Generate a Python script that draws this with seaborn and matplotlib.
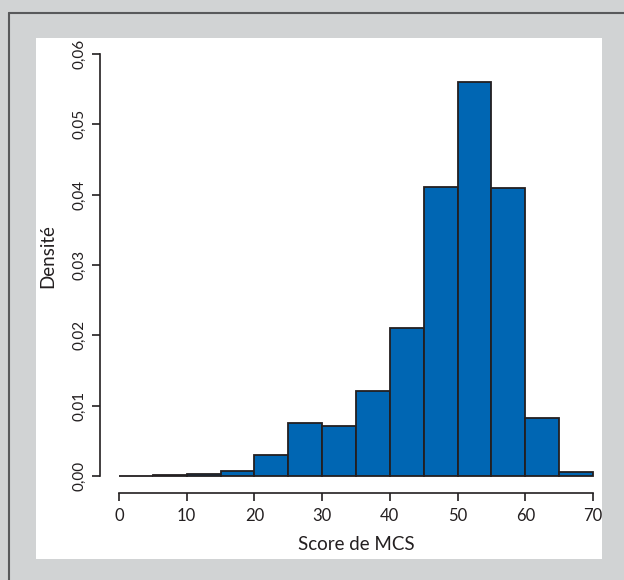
import numpy as np
import pandas as pd
import seaborn as sns
from matplotlib import pyplot as plt
from matplotlib.patches import Rectangle
from matplotlib.lines import Line2D
from matplotlib.ticker import FuncFormatter

# Histogramme des scores MCS (densité par classe de 5 points)
bin_edges = [0, 5, 10, 15, 20, 25, 30, 35, 40, 45, 50, 55, 60, 65, 70]
densite = [0.00005, 0.00015, 0.00036, 0.00073, 0.00306, 0.0075, 0.00713,
           0.01216, 0.02107, 0.04112, 0.05597, 0.04098, 0.00832, 0.00055]
x_ticks = [0, 10, 20, 30, 40, 50, 60, 70]
y_ticks = [0.00, 0.01, 0.02, 0.03, 0.04, 0.05, 0.06]

df = pd.DataFrame({
    'score': [(a + b) / 2 for a, b in zip(bin_edges[:-1], bin_edges[1:])],
    'densite': densite,
})

sns.set_style('white')
plt.rcParams['font.family'] = ['Lato', 'DejaVu Sans']

txt = '#231f20'
fig = plt.figure(figsize=(6.24, 5.8), dpi=100)
fig.patch.set_facecolor('#d1d3d4')

# cadre blanc + bordure du cadre gris
fig.patches.append(Rectangle((36 / 624, 21 / 580), 566 / 624, 521 / 580,
                             transform=fig.transFigure, facecolor='white',
                             edgecolor='none', zorder=-2))
fig.lines.append(Line2D([9 / 624, 1], [1 - 13 / 580, 1 - 13 / 580],
                        transform=fig.transFigure, color='#58595b', lw=1.5, zorder=-1))
fig.lines.append(Line2D([9 / 624, 9 / 624], [0, 1 - 13 / 580],
                        transform=fig.transFigure, color='#58595b', lw=1.5, zorder=-1))

ax = fig.add_axes([100 / 624, 87 / 580, 512 / 624, 456 / 580])
ax.set_zorder(1)
ax.patch.set_alpha(0)

sns.histplot(data=df, x='score', weights='densite', bins=bin_edges,
             color='#0066b3', edgecolor=txt, linewidth=1.3, alpha=1, ax=ax)

ax.set_xlim(-2.8, 72.8)
ax.set_ylim(-0.0024, 0.0624)
ax.set_xticks(x_ticks)
ax.set_yticks(y_ticks)
ax.yaxis.set_major_formatter(FuncFormatter(lambda v, p: f"{v:.2f}".replace('.', ',')))

for s in ['top', 'right']:
    ax.spines[s].set_visible(False)
ax.spines['left'].set_bounds(0, 0.06)
ax.spines['bottom'].set_bounds(0, 70)
for s in ['left', 'bottom']:
    ax.spines[s].set_color(txt)
    ax.spines[s].set_linewidth(1.2)

ax.tick_params(axis='both', bottom=True, left=True, direction='out',
               length=5.6, width=1.2, color=txt, labelcolor=txt, labelsize=12)
ax.tick_params(axis='x', pad=5)
ax.tick_params(axis='y', pad=4)
for lab in ax.get_yticklabels():
    lab.set_rotation(90)
    lab.set_va('center')
    lab.set_fontsize(11)

ax.set_xlabel('Score de MCS', fontsize=13.5, color=txt)
ax.set_ylabel('Densité', fontsize=13.5, color=txt)
ax.xaxis.set_label_coords(0.5, -0.094)
ax.yaxis.set_label_coords(-0.086, 0.52)

fig.savefig('out.png', dpi=100, facecolor=fig.get_facecolor())
